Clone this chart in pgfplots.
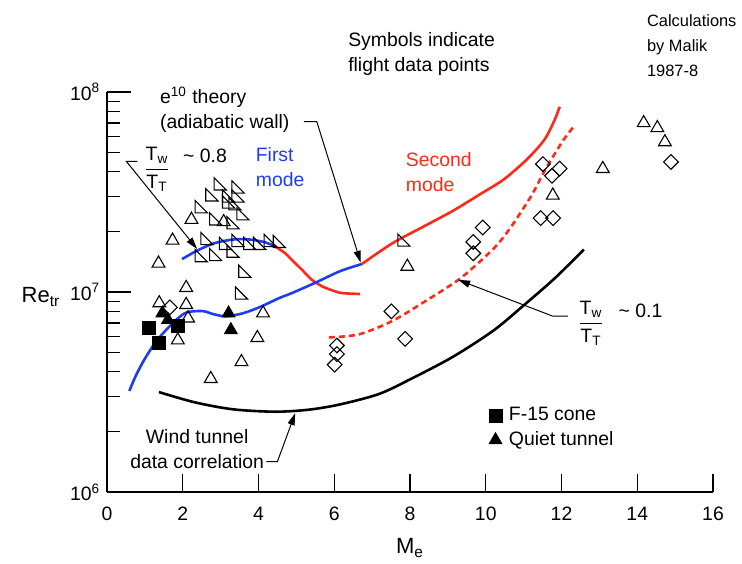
\documentclass[border=0pt]{standalone}
\usepackage{fontspec}
\setmainfont{Liberation Sans}
\usepackage{amsmath}
\usepackage{pgfplots}
\pgfplotsset{compat=1.18}
\usetikzlibrary{arrows.meta}
\definecolor{fblue}{RGB}{30,60,245}
\definecolor{fred}{RGB}{255,40,25}
% open right-angled triangle used for most flight points
\pgfdeclareplotmark{rtri}{%
  \pgfpathmoveto{\pgfqpoint{-0.85\pgfplotmarksize}{0.85\pgfplotmarksize}}%
  \pgfpathlineto{\pgfqpoint{-0.85\pgfplotmarksize}{-0.85\pgfplotmarksize}}%
  \pgfpathlineto{\pgfqpoint{0.85\pgfplotmarksize}{-0.85\pgfplotmarksize}}%
  \pgfpathclose\pgfusepathqstroke}
\begin{document}
\fontsize{9.7}{12.5}\selectfont
\begin{tikzpicture}[>={Triangle[length=6pt,width=3.5pt]}]
\begin{axis}[
  scale only axis, width=303pt, height=200pt,
  xmin=0, xmax=16, ymode=log, ymin=1e6, ymax=1e8,
  axis x line*=bottom, axis y line*=left,
  axis line style={-, line width=0.7pt},
  tick align=inside, tick style={black, line width=0.6pt},
  major tick length=12pt, minor tick length=6.5pt,
  xtick style={/pgfplots/major tick length=9pt},
  xtick={0,2,4,6,8,10,12,14,16},
  ytick={1e6,1e7,1e8},
  yticklabels={10\textsuperscript{6},10\textsuperscript{7},10\textsuperscript{8}},
  minor ytick={2e6,3e6,4e6,5e6,6e6,7e6,8e6,9e6,2e7,3e7,4e7,5e7,6e7,7e7,8e7,9e7},
  /pgf/number format/assume math mode=true,
  xticklabel style={yshift=-4pt},
  xlabel={M\textsubscript{e}},
  x label style={at={(axis description cs:0.5,-0.14)}, anchor=center, font=\fontsize{11}{13}\selectfont},
  ylabel={Re\textsubscript{tr}},
  y label style={at={(axis description cs:-0.109,0.4875)}, rotate=-90, anchor=center, font=\fontsize{11}{13}\selectfont},
  clip=false,
  legend style={draw=none, fill=none, at={(axis description cs:0.62,0.16)},
    anchor=west, nodes={inner sep=1.5pt}, row sep=1pt},
  legend cell align=left,
]
\addlegendimage{only marks, mark=square*, black, mark size=3.2pt}
\addlegendimage{only marks, mark=triangle*, black, mark size=3.7pt}
\legend{\hspace{2pt}F-15 cone, \hspace{2pt}Quiet tunnel}

% wind tunnel correlation
\addplot[black, line width=1.3pt, smooth] coordinates {
  (1.37,3.16e6) (2.31,2.81e6) (3.33,2.59e6) (4.44,2.52e6) (5.33,2.58e6)
  (6.15,2.74e6) (7.18,3.09e6) (8.03,3.68e6) (9.14,4.75e6) (10.21,6.43e6)
  (11.01,8.60e6) (11.82,1.17e7) (12.59,1.63e7)};
% first mode, upper branch (Tw/TT ~ 0.8)
\addplot[fblue, line width=1.3pt, smooth] coordinates {
  (1.98,1.46e7) (2.38,1.61e7) (2.82,1.75e7) (3.33,1.83e7) (3.77,1.83e7)
  (4.18,1.77e7) (4.44,1.69e7)};
\addplot[fred, line width=1.3pt, smooth] coordinates {
  (4.44,1.69e7) (4.71,1.56e7) (4.89,1.44e7) (5.15,1.29e7) (5.41,1.15e7)
  (5.67,1.07e7) (5.94,1.02e7) (6.20,9.88e6) (6.68,9.77e6)};
% first mode, adiabatic wall
\addplot[fblue, line width=1.3pt, smooth] coordinates {
  (0.59,3.20e6) (0.76,3.81e6) (1.00,4.64e6) (1.32,5.73e6) (1.73,6.97e6)
  (2.05,7.83e6) (2.31,8.01e6) (2.56,8.01e6) (2.82,7.74e6) (3.15,7.56e6)
  (3.59,7.83e6) (4.03,8.40e6) (4.55,9.33e6) (4.89,9.89e6) (5.49,1.11e7)
  (6.15,1.27e7) (6.73,1.38e7)};
% second mode, adiabatic wall
\addplot[fred, line width=1.3pt, smooth] coordinates {
  (6.73,1.38e7) (7.53,1.75e7) (8.41,2.15e7) (9.14,2.55e7) (9.86,3.09e7)
  (10.48,3.66e7) (11.09,4.61e7) (11.55,5.78e7) (11.82,7.26e7) (11.95,8.43e7)};
% second mode, cold wall
\addplot[fred, line width=1.3pt, smooth, dash pattern=on 3pt off 2pt] coordinates {
  (5.86,5.93e6) (6.65,6.14e6) (7.52,7.14e6) (8.41,9.01e6) (9.33,1.17e7)
  (10.21,1.65e7) (10.67,2.12e7) (11.20,3.02e7) (11.55,4.02e7) (12.01,5.60e7)
  (12.30,6.64e7)};

% flight data
\addplot[only marks, mark=triangle, mark size=3.7pt, mark options={black, line width=0.55pt}] coordinates {
  (1.36,1.39e7) (2.09,1.05e7) (1.38,8.80e6) (2.09,8.63e6) (2.14,7.39e6)
  (1.87,5.74e6) (2.74,3.68e6) (3.55,4.47e6) (3.97,5.90e6) (4.12,7.83e6)
  (1.73,1.81e7) (2.23,2.30e7) (3.08,2.24e7) (7.93,1.34e7) (11.77,3.04e7)
  (13.09,4.13e7) (14.17,7.00e7) (14.53,6.61e7) (14.73,5.62e7)};
\addplot[only marks, mark=rtri, mark size=3.6pt, mark options={black, line width=0.55pt}] coordinates {
  (2.99,3.47e7) (3.46,3.35e7) (2.77,3.06e7) (3.21,3.02e7) (3.46,3.02e7)
  (3.21,2.82e7) (3.38,2.76e7) (2.49,2.67e7) (3.59,2.46e7) (2.87,2.32e7)
  (3.33,2.22e7) (2.64,1.85e7) (3.13,1.75e7) (3.46,1.81e7) (3.77,1.75e7)
  (4.03,1.75e7) (4.31,1.81e7) (4.55,1.79e7) (2.49,1.52e7) (2.87,1.54e7)
  (3.33,1.60e7) (3.64,1.27e7) (3.55,9.89e6) (7.84,1.82e7)};
\addplot[only marks, mark=square, mark size=2.6pt, mark options={black, line width=0.55pt, rotate=45}] coordinates {
  (1.66,8.37e6) (6.07,5.40e6) (6.07,4.89e6) (6.01,4.33e6) (7.87,5.83e6)
  (7.51,8.00e6) (9.67,1.78e7) (9.67,1.56e7) (9.92,2.10e7) (11.51,4.36e7)
  (11.95,4.14e7) (11.75,3.81e7) (11.45,2.34e7) (11.78,2.34e7) (14.89,4.47e7)};
\addplot[only marks, mark=square*, mark size=3.2pt, black] coordinates {
  (1.11,6.64e6) (1.36,5.59e6) (1.87,6.76e6)};
\addplot[only marks, mark=triangle*, mark size=3.7pt, black] coordinates {
  (1.46,7.83e6) (1.61,7.26e6) (3.21,7.83e6) (3.27,6.46e6)};

% annotations
\draw[->, line width=0.5pt] (axis cs:5.20,7.10e7) -- (axis cs:5.54,7.10e7) -- (axis cs:6.70,1.40e7);
\draw[->, line width=0.5pt] (axis cs:0.80,4.50e7) -- (axis cs:0.51,4.50e7) -- (axis cs:2.38,1.64e7);
\draw[->, line width=0.5pt] (axis cs:12.17,7.57e6) -- (axis cs:11.77,7.57e6) -- (axis cs:9.27,1.15e7);
\draw[->, line width=0.5pt] (axis cs:4.21,1.42e6) -- (axis cs:4.50,1.42e6) -- (axis cs:4.97,2.48e6);

\node[anchor=west, align=left, inner sep=0pt] at (axis cs:1.39,8.15e7) {e\textsuperscript{10} theory\\(adiabatic wall)};
\node[inner sep=0pt] at (axis cs:1.32,4.11e7) {$\dfrac{\text{T}_{\text{w}}}{\text{T}_{\text{T}}}$};
\node[anchor=west, inner sep=0pt] at (axis cs:2.0,4.82e7) {\textasciitilde{} 0.8};
\node[anchor=west, align=left, inner sep=0pt, text=fblue] at (axis cs:3.92,4.21e7) {First\\mode};
\node[anchor=west, align=left, inner sep=0pt, text=fred] at (axis cs:7.88,3.97e7) {Second\\mode};
\node[anchor=west, align=left, inner sep=0pt] at (axis cs:6.36,1.54e8) {Symbols indicate\\flight data points};
\node[anchor=west, align=left, inner sep=0pt, font=\fontsize{8.2}{12.5}\selectfont] at (axis cs:14.25,1.71e8) {Calculations\\by Malik\\1987-8};
\node[align=center, inner sep=0pt] at (axis cs:2.38,1.63e6) {Wind tunnel\\data correlation};
\node[inner sep=0pt] at (axis cs:12.78,6.97e6) {$\dfrac{\text{T}_{\text{w}}}{\text{T}_{\text{T}}}$};
\node[anchor=west, inner sep=0pt] at (axis cs:13.50,8.02e6) {\textasciitilde{} 0.1};
\end{axis}
\pgfresetboundingbox
\path[use as bounding box] (-53.5pt,-35.5pt) rectangle (317.5pt,246pt);
\end{tikzpicture}
\end{document}
